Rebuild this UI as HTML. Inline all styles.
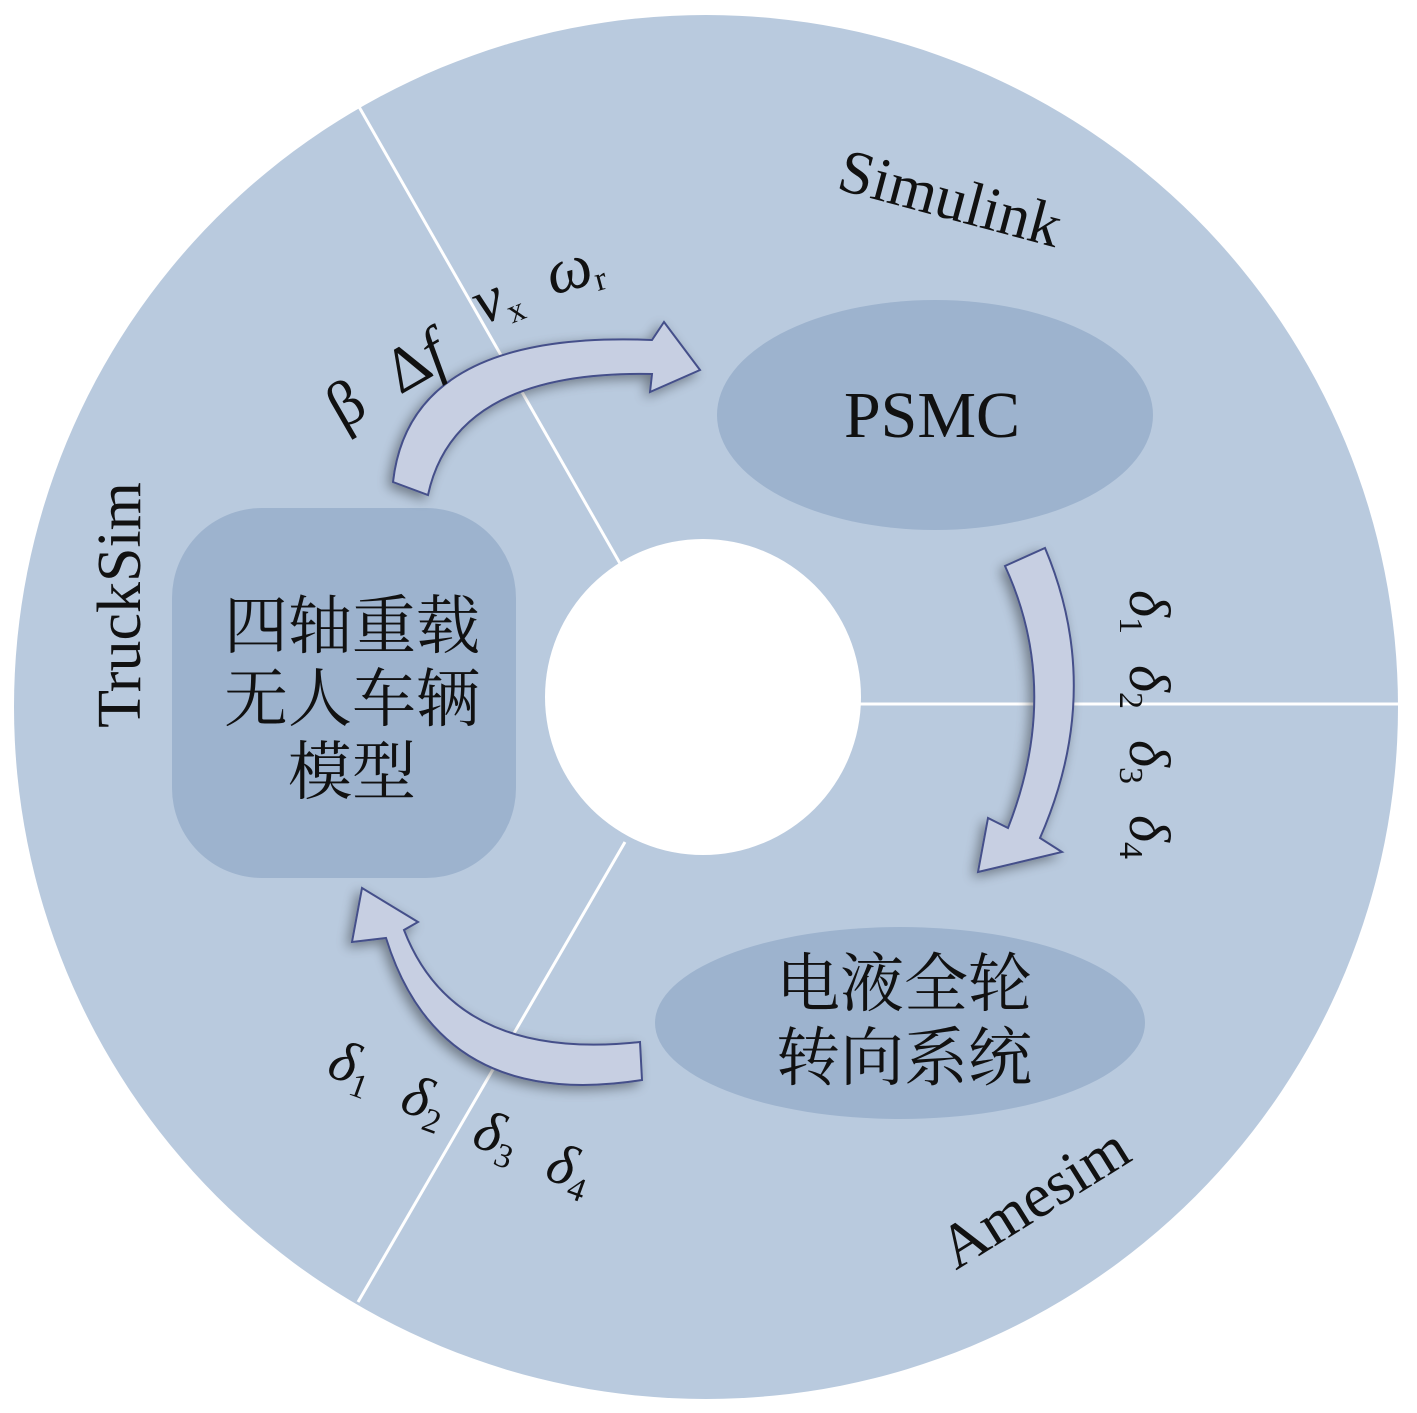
<!DOCTYPE html>
<html><head><meta charset="utf-8"><style>
html,body{margin:0;padding:0;background:#fff}
svg{display:block}
text{font-family:"Liberation Serif","Noto Serif CJK SC",serif;fill:#111}
.cn{font-family:"Liberation Serif","Noto Serif CJK SC","Noto Sans CJK SC",serif}
</style></head><body>
<svg width="1417" height="1413" viewBox="0 0 1417 1413" xmlns="http://www.w3.org/2000/svg">
<defs>
<filter id="sh" x="-20%" y="-20%" width="140%" height="140%"><feGaussianBlur in="SourceAlpha" stdDeviation="6"/><feOffset dx="-4" dy="4"/><feComponentTransfer><feFuncA type="linear" slope="0.4"/></feComponentTransfer><feMerge><feMergeNode/><feMergeNode in="SourceGraphic"/></feMerge></filter>
</defs>
<circle cx="706" cy="707" r="692" fill="#b9cade"/>
<line x1="622" y1="567" x2="358" y2="105" stroke="#fff" stroke-width="3"/>
<line x1="625" y1="842" x2="358" y2="1302" stroke="#fff" stroke-width="3"/>
<line x1="860" y1="704" x2="1398" y2="704" stroke="#fff" stroke-width="3"/>
<circle cx="703" cy="697" r="158" fill="#fff"/>
<ellipse cx="935" cy="415" rx="218" ry="115" fill="#9db3ce"/>
<ellipse cx="900" cy="1023" rx="245" ry="96" fill="#9db3ce"/>
<rect x="172" y="508" width="344" height="370" rx="90" fill="#9db3ce"/>
<g fill="#c7cfe2" stroke="#44508a" stroke-width="2" filter="url(#sh)">
<path d="M393,482 Q410,330 652,340 L664,322 L700,370 L650,392 L652,374 Q455,370 428,495 Z"/>
<path d="M1045,548 Q1105,690 1040,838 L1062,852 L978,872 L988,818 L1008,828 Q1062,690 1005,566 Z"/>
<path d="M642,1080 Q440,1112 386,938 L352,942 L362,888 L418,922 L404,930 Q455,1062 640,1042 Z"/>
</g>
<text x="932" y="437" font-size="66" text-anchor="middle">PSMC</text>
<text class="cn" font-size="64" text-anchor="middle"><tspan x="904" y="1006">电液全轮</tspan><tspan x="904" y="1080">转向系统</tspan></text>
<text class="cn" font-size="64" text-anchor="middle"><tspan x="352" y="648">四轴重载</tspan><tspan x="352" y="721">无人车辆</tspan><tspan x="352" y="794">模型</tspan></text>
<text x="0" y="0" font-size="62" text-anchor="middle" transform="translate(945,218) rotate(15)">Simulink</text>
<text x="0" y="0" font-size="62" text-anchor="middle" transform="translate(140,605) rotate(-90)">TruckSim</text>
<text x="0" y="0" font-size="62" text-anchor="middle" transform="translate(1045,1215) rotate(-32)">Amesim</text>
<g font-size="64" font-style="italic">
<text transform="translate(342,430) rotate(-30)" font-style="normal">β</text>
<text transform="translate(400,395) rotate(-30)"><tspan font-style="normal">Δ</tspan>f</text>
<text transform="translate(482,325) rotate(-22)">v<tspan font-size="34" dy="10" font-style="normal">x</tspan></text>
<text transform="translate(552,295) rotate(-15)">ω<tspan font-size="34" dy="8" font-style="normal">r</tspan></text>
</g>
<g font-size="58" font-style="italic" transform="translate(1130,590) rotate(90)">
<text x="0" y="0">δ<tspan font-size="34" dy="10" font-style="normal">1</tspan></text>
<text x="75" y="0">δ<tspan font-size="34" dy="10" font-style="normal">2</tspan></text>
<text x="150" y="0">δ<tspan font-size="34" dy="10" font-style="normal">3</tspan></text>
<text x="225" y="0">δ<tspan font-size="34" dy="10" font-style="normal">4</tspan></text>
</g>
<g font-size="58" font-style="italic">
<text transform="translate(325,1075) rotate(20)">δ<tspan font-size="34" dy="10" font-style="normal">1</tspan></text>
<text transform="translate(398,1110) rotate(20)">δ<tspan font-size="34" dy="10" font-style="normal">2</tspan></text>
<text transform="translate(470,1145) rotate(20)">δ<tspan font-size="34" dy="10" font-style="normal">3</tspan></text>
<text transform="translate(543,1178) rotate(20)">δ<tspan font-size="34" dy="10" font-style="normal">4</tspan></text>
</g>
</svg>
</body></html>
